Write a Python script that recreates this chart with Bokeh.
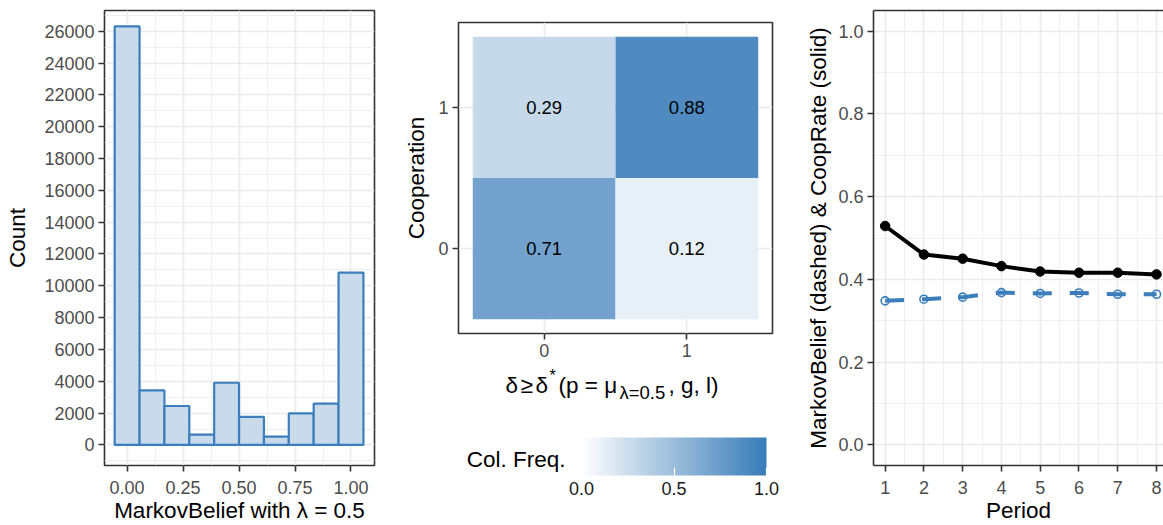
from bokeh.plotting import figure
from bokeh.layouts import row, column
from bokeh.models import (Range1d, FixedTicker, PrintfTickFormatter, LinearColorMapper,
                          ColorBar, Label, LinearAxis, ColumnDataSource)
from bokeh.core.properties import value
from bokeh.embed import file_html
from bokeh.resources import INLINE

FONT = "Liberation Sans"

# ---------------- data ----------------
# histogram of MarkovBelief (lambda = 0.5), 10 bins
bin_centers = [0.0, 0.1111, 0.2222, 0.3333, 0.4444, 0.5556, 0.6667, 0.7778, 0.8889, 1.0]
bin_counts = [26300, 3430, 2450, 650, 3910, 1770, 520, 1980, 2600, 10830]

# heatmap: column frequencies
heat_x = [0, 1, 0, 1]
heat_y = [1, 1, 0, 0]
heat_freq = [0.29, 0.88, 0.71, 0.12]

# time series by period
periods = [1, 2, 3, 4, 5, 6, 7, 8]
coop_rate = [0.529, 0.460, 0.450, 0.432, 0.419, 0.416, 0.416, 0.412]
markov_belief = [0.348, 0.352, 0.357, 0.368, 0.366, 0.367, 0.364, 0.364]

hist_xticks = [0.0, 0.25, 0.5, 0.75, 1.0]
hist_yticks = list(range(0, 26001, 2000))
cb_ticks = [0.0, 0.5, 1.0]
ts_yticks = [0.0, 0.2, 0.4, 0.6, 0.8, 1.0]

BLUE = "#3B7EBB"
BORDER = "#333333"
TICK_FS = "18px"
TITLE_FS = "22.5px"


def style(p, outline=True):
    p.background_fill_color = "white"
    p.border_fill_color = "white"
    if outline:
        p.outline_line_color = BORDER
        p.outline_line_width = 1.6
    else:
        p.outline_line_color = None
    for ax in p.axis:
        ax.axis_line_color = None
        ax.major_tick_line_color = BORDER
        ax.major_tick_line_width = 1.6
        ax.major_tick_in = 0
        ax.major_tick_out = 6
        ax.minor_tick_line_color = None
        ax.major_label_text_font = FONT
        ax.major_label_text_font_size = TICK_FS
        ax.major_label_text_color = "#4D4D4D"
        ax.axis_label_text_font = FONT
        ax.axis_label_text_font_size = TITLE_FS
        ax.axis_label_text_color = "black"
        ax.axis_label_text_font_style = "normal"
        ax.major_label_standoff = 4
        ax.axis_label_standoff = 4
    for g in p.grid:
        g.grid_line_color = "#EBEBEB"
        g.grid_line_width = 1.6
        g.minor_grid_line_color = "#EBEBEB"
        g.minor_grid_line_width = 0.8


def blank(p):
    p.outline_line_color = None
    p.background_fill_color = "white"
    p.border_fill_color = "white"
    for g in p.grid:
        g.visible = False


# ---------------- panel 1: histogram ----------------
p1 = figure(width=385, height=525, x_range=Range1d(-0.101, 1.105), y_range=Range1d(-1290, 27300),
            min_border_left=104, min_border_right=11, min_border_top=10, min_border_bottom=57,
            toolbar_location=None, output_backend="svg")
p1.vbar(x=bin_centers, top=bin_counts, bottom=0, width=1 / 9,
        fill_color="#C9DAEB", line_color=BLUE, line_width=2.2)
p1.xaxis.ticker = FixedTicker(ticks=hist_xticks, minor_ticks=[-0.125, 0.125, 0.375, 0.625, 0.875, 1.125])
p1.yaxis.ticker = FixedTicker(ticks=hist_yticks, minor_ticks=list(range(-1000, 27001, 2000)))
p1.xaxis.formatter = PrintfTickFormatter(format="%.2f")
p1.yaxis.formatter = PrintfTickFormatter(format="%d")
p1.xaxis.axis_label = "MarkovBelief with λ = 0.5"
p1.yaxis.axis_label = "Count"
style(p1)
p1.yaxis.axis_label_standoff = 11
p1.xaxis.major_label_standoff = 9
p1.xaxis.axis_label_standoff = 1

# ---------------- panel 2: heatmap ----------------
n = 256
c0 = (255, 255, 255)
c1 = (56, 124, 184)
palette = ["#%02x%02x%02x" % tuple(int(round(c0[k] + (c1[k] - c0[k]) * i / (n - 1))) for k in range(3))
           for i in range(n)]
mapper = LinearColorMapper(palette=palette, low=0, high=1)

src = ColumnDataSource(dict(x=heat_x, y=heat_y, freq=heat_freq,
                            lab=["%.2f" % v for v in heat_freq]))
p2 = figure(width=405, height=363, x_range=Range1d(-0.6, 1.6), y_range=Range1d(-0.6, 1.6),
            min_border_left=73, min_border_right=18, min_border_top=22, min_border_bottom=30,
            toolbar_location=None, output_backend="svg")
p2.rect(x="x", y="y", width=1, height=1, source=src,
        fill_color={"field": "freq", "transform": mapper}, line_color=None)
p2.text(x="x", y="y", text="lab", source=src, text_align="center", text_baseline="middle",
        text_font=value(FONT), text_font_size="18.5px", text_color="black")
p2.xaxis.ticker = FixedTicker(ticks=[0, 1], minor_ticks=[])
p2.yaxis.ticker = FixedTicker(ticks=[0, 1], minor_ticks=[])
p2.yaxis.axis_label = "Cooperation"
style(p2)
p2.yaxis.axis_label_standoff = 6
p2.xaxis.major_label_standoff = 4

# ---------------- heatmap x title strip: δ ≥ δ* (p = μ_{λ=0.5}, g, l) ----------------
# frame aligned with the heatmap frame; x in pixels from the frame's left edge
p5 = figure(width=405, height=42, x_range=Range1d(0, 314), y_range=Range1d(0, 42),
            min_border_left=73, min_border_right=18, min_border_top=0, min_border_bottom=0,
            x_axis_location=None, y_axis_location=None,
            toolbar_location=None, output_backend="svg")
blank(p5)
title_parts = [
    ("δ", 47, 20, "22.5px"),
    ("≥", 62, 20, "22.5px"),
    ("δ", 77, 20, "22.5px"),
    ("*", 91, 30, "16px"),
    ("(p = μ", 100, 20, "22.5px"),
    ("λ=0.5", 161, 13, "18.5px"),
    (", g, l)", 210, 20, "22.5px"),
]
for txt, lx, ly, fs in title_parts:
    p5.add_layout(Label(x=lx, y=ly, text=txt, text_font=FONT, text_font_size=fs,
                        text_color="black", text_align="left", text_baseline="alphabetic"))

# ---------------- colour bar row ----------------
p6 = figure(width=181, height=120, x_range=Range1d(0, 181), y_range=Range1d(0, 120),
            min_border=0, x_axis_location=None, y_axis_location=None,
            toolbar_location=None, output_backend="svg")
blank(p6)
p6.add_layout(Label(x=180, y=49, text="Col. Freq.", text_font=FONT, text_font_size=TITLE_FS,
                    text_color="black", text_align="right", text_baseline="alphabetic"))

p4 = figure(width=224, height=120, x_range=Range1d(0, 1), y_range=Range1d(0, 1),
            min_border_left=15, min_border_right=24, min_border_top=32, min_border_bottom=50,
            x_axis_location=None, y_axis_location=None,
            toolbar_location=None, output_backend="svg")
blank(p4)
cb = ColorBar(color_mapper=mapper, orientation="horizontal", location="top_left",
              width=185, height=38, padding=0, margin=0,
              ticker=FixedTicker(ticks=cb_ticks), formatter=PrintfTickFormatter(format="%.1f"),
              major_label_text_font=FONT, major_label_text_font_size=TICK_FS,
              major_label_text_color="#1A1A1A", label_standoff=6,
              major_tick_line_color="white", major_tick_in=8, major_tick_out=0,
              major_tick_line_width=1.2, minor_tick_line_color=None,
              bar_line_color=None, border_line_color=None, background_fill_color=None)
p4.add_layout(cb, "center")

# ---------------- panel 3: time series ----------------
p3 = figure(width=373, height=525, x_range=Range1d(0.70, 8.18), y_range=Range1d(-0.05, 1.05),
            min_border_left=83, min_border_right=0, min_border_top=10, min_border_bottom=57,
            toolbar_location=None, output_backend="svg")
p3.line(periods, markov_belief, line_color=BLUE, line_width=4, line_dash="19 18")
p3.scatter(periods, markov_belief, marker="circle", size=8, fill_color=None,
           line_color=BLUE, line_width=1.6)
p3.line(periods, coop_rate, line_color="black", line_width=4)
p3.scatter(periods, coop_rate, marker="circle", size=9.5, fill_color="black", line_color="black")
p3.xaxis.ticker = FixedTicker(ticks=periods, minor_ticks=[0.5 + i for i in range(10)])
p3.yaxis.ticker = FixedTicker(ticks=ts_yticks, minor_ticks=[0.1, 0.3, 0.5, 0.7, 0.9])
p3.yaxis.formatter = PrintfTickFormatter(format="%.1f")
p3.xaxis.axis_label = "Period"
p3.yaxis.axis_label = "MarkovBelief (dashed) & CoopRate (solid)"
style(p3, outline=False)
for ax in p3.axis:
    ax.axis_line_color = BORDER
    ax.axis_line_width = 1.6
p3.xaxis.major_label_standoff = 9
p3.xaxis.axis_label_standoff = 1
top_axis = LinearAxis(ticker=FixedTicker(ticks=[]), axis_line_color=BORDER, axis_line_width=1.6,
                      major_tick_line_color=None, minor_tick_line_color=None,
                      major_label_text_font_size="0px", major_tick_out=0, major_tick_in=0,
                      major_label_standoff=0)
p3.add_layout(top_axis, "above")

layout = row(p1, column(p2, p5, row(p6, p4)), p3)
open("out.html", "w").write(file_html(layout, INLINE))
